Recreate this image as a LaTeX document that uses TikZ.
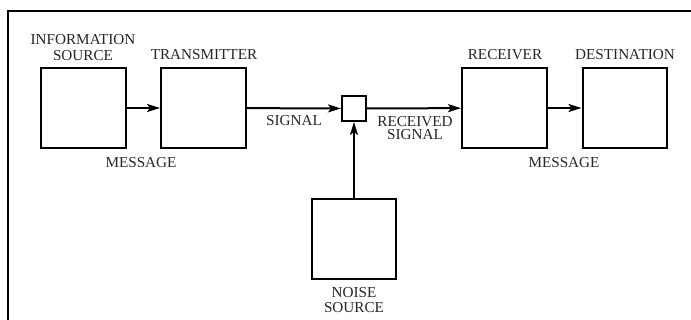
\documentclass[tikz,border=0pt]{standalone}
\usepackage{fontspec}
\setmainfont{Liberation Serif}
\usetikzlibrary{arrows.meta}

\begin{document}
\begin{tikzpicture}[x=0.5pt,y=-0.5pt,>={Stealth[length=6.5pt,width=4pt,inset=1.5pt]},
  blok/.style={draw,line width=1pt,inner sep=0pt,minimum width=42.5pt,minimum height=40pt},
  txt/.style={text=black!85,font=\fontsize{7.6}{8}\selectfont,align=center,inner sep=0pt}]
\useasboundingbox (0,0) rectangle (691,320);
\draw[line width=1pt](8,320)--(8,11.5)--(691,11.5);
% boxes
\node[blok](src) at (83.5,108){};
\node[blok](tx) at (203.5,108){};
\node[blok,minimum width=12pt,minimum height=12.5pt](mix) at (354,108.5){};
\node[blok](rx) at (504.5,108){};
\node[blok,minimum width=42pt](dst) at (624.5,108){};
\node[blok,minimum width=42pt](noise) at (354,239){};
% connectors
\draw[->,line width=1pt](src)--(tx);
\draw[->,line width=1pt](tx)--(mix);
\draw[->,line width=1pt](mix)--(rx);
\draw[->,line width=1pt](rx)--(dst);
\draw[->,line width=1pt](noise)--(mix);
% labels
\node[txt](srclab) at (83,48){INFORMATION\\SOURCE};
\node[txt](txlab) at (204,55){TRANSMITTER};
\node[txt](msg1) at (141,163){MESSAGE};
\node[txt](sig) at (294,121){SIGNAL};
\node[txt,font=\fontsize{7.6}{6.6}\selectfont](rsig) at (415,128){RECEIVED\\SIGNAL};
\node[txt](rxlab) at (505,55){RECEIVER};
\node[txt](dstlab) at (625,55){DESTINATION};
\node[txt](msg2) at (564,163){MESSAGE};
\node[txt,font=\fontsize{7.6}{7.5}\selectfont](noiselab) at (354,300){NOISE\\SOURCE};
\end{tikzpicture}
\end{document}
